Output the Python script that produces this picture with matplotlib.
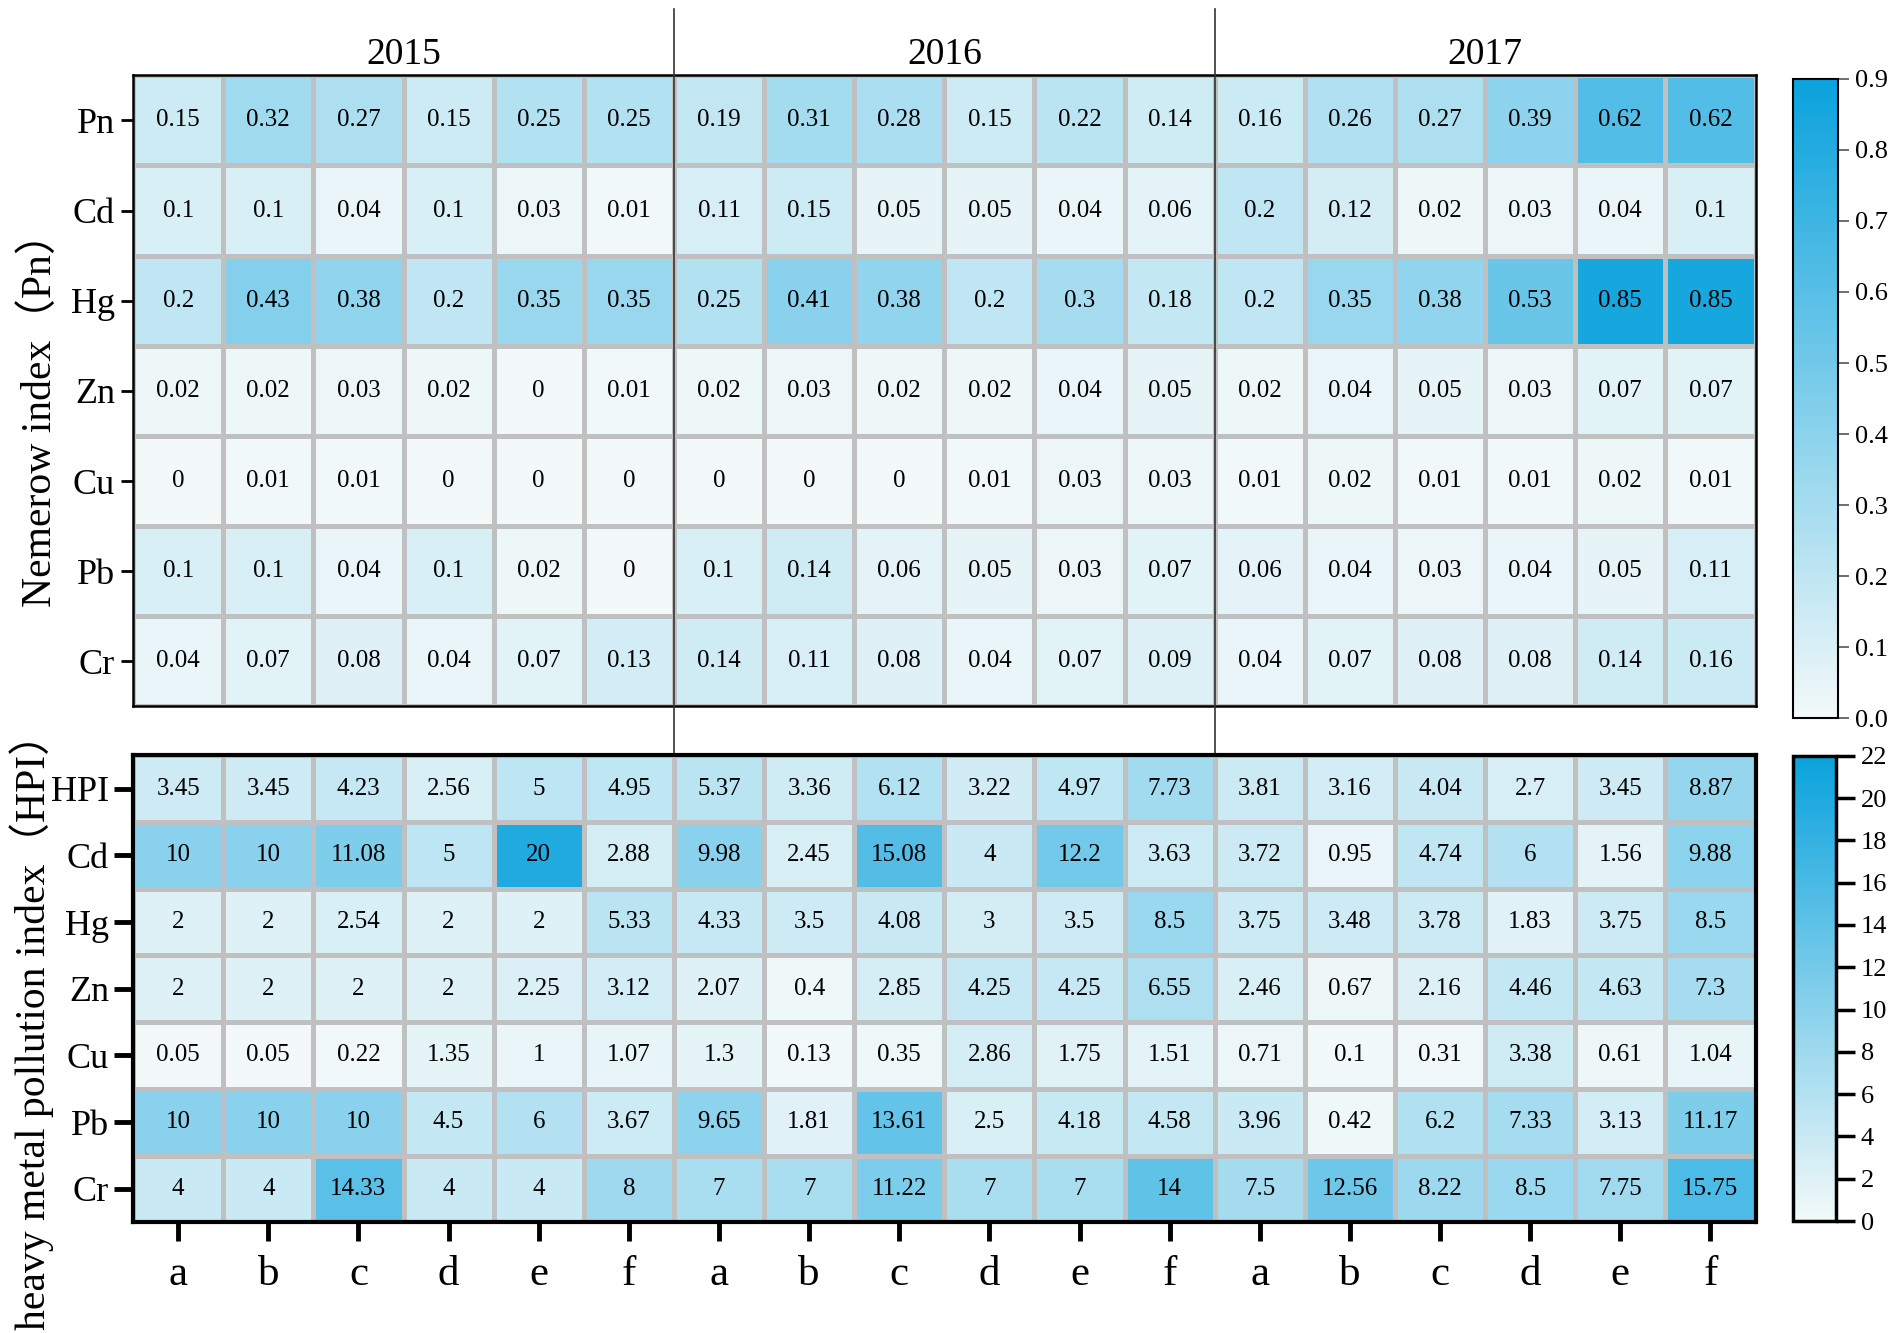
import numpy as np
import matplotlib
matplotlib.use('Agg')
import matplotlib.pyplot as plt
from matplotlib.colors import LinearSegmentedColormap
from matplotlib import transforms

plt.rcParams['font.family'] = ['Liberation Serif', 'Noto Sans CJK SC', 'DejaVu Sans']

# 데이터
years = ['2015', '2016', '2017']
sites = ['a', 'b', 'c', 'd', 'e', 'f']
pn_rows = ['Pn', 'Cd', 'Hg', 'Zn', 'Cu', 'Pb', 'Cr']
hpi_rows = ['HPI', 'Cd', 'Hg', 'Zn', 'Cu', 'Pb', 'Cr']

pn_pn = [0.15, 0.32, 0.27, 0.15, 0.25, 0.25, 0.19, 0.31, 0.28, 0.15, 0.22, 0.14, 0.16, 0.26, 0.27, 0.39, 0.62, 0.62]
pn_cd = [0.1, 0.1, 0.04, 0.1, 0.03, 0.01, 0.11, 0.15, 0.05, 0.05, 0.04, 0.06, 0.2, 0.12, 0.02, 0.03, 0.04, 0.1]
pn_hg = [0.2, 0.43, 0.38, 0.2, 0.35, 0.35, 0.25, 0.41, 0.38, 0.2, 0.3, 0.18, 0.2, 0.35, 0.38, 0.53, 0.85, 0.85]
pn_zn = [0.02, 0.02, 0.03, 0.02, 0, 0.01, 0.02, 0.03, 0.02, 0.02, 0.04, 0.05, 0.02, 0.04, 0.05, 0.03, 0.07, 0.07]
pn_cu = [0, 0.01, 0.01, 0, 0, 0, 0, 0, 0, 0.01, 0.03, 0.03, 0.01, 0.02, 0.01, 0.01, 0.02, 0.01]
pn_pb = [0.1, 0.1, 0.04, 0.1, 0.02, 0, 0.1, 0.14, 0.06, 0.05, 0.03, 0.07, 0.06, 0.04, 0.03, 0.04, 0.05, 0.11]
pn_cr = [0.04, 0.07, 0.08, 0.04, 0.07, 0.13, 0.14, 0.11, 0.08, 0.04, 0.07, 0.09, 0.04, 0.07, 0.08, 0.08, 0.14, 0.16]

hpi_hpi = [3.45, 3.45, 4.23, 2.56, 5, 4.95, 5.37, 3.36, 6.12, 3.22, 4.97, 7.73, 3.81, 3.16, 4.04, 2.7, 3.45, 8.87]
hpi_cd = [10, 10, 11.08, 5, 20, 2.88, 9.98, 2.45, 15.08, 4, 12.2, 3.63, 3.72, 0.95, 4.74, 6, 1.56, 9.88]
hpi_hg = [2, 2, 2.54, 2, 2, 5.33, 4.33, 3.5, 4.08, 3, 3.5, 8.5, 3.75, 3.48, 3.78, 1.83, 3.75, 8.5]
hpi_zn = [2, 2, 2, 2, 2.25, 3.12, 2.07, 0.4, 2.85, 4.25, 4.25, 6.55, 2.46, 0.67, 2.16, 4.46, 4.63, 7.3]
hpi_cu = [0.05, 0.05, 0.22, 1.35, 1, 1.07, 1.3, 0.13, 0.35, 2.86, 1.75, 1.51, 0.71, 0.1, 0.31, 3.38, 0.61, 1.04]
hpi_pb = [10, 10, 10, 4.5, 6, 3.67, 9.65, 1.81, 13.61, 2.5, 4.18, 4.58, 3.96, 0.42, 6.2, 7.33, 3.13, 11.17]
hpi_cr = [4, 4, 14.33, 4, 4, 8, 7, 7, 11.22, 7, 7, 14, 7.5, 12.56, 8.22, 8.5, 7.75, 15.75]

pn_data = np.array([pn_pn, pn_cd, pn_hg, pn_zn, pn_cu, pn_pb, pn_cr])
hpi_data = np.array([hpi_hpi, hpi_cd, hpi_hg, hpi_zn, hpi_cu, hpi_pb, hpi_cr])
col_labels = sites * len(years)

cmap = LinearSegmentedColormap.from_list('blu', ['#f3f9f9', '#0aa2dd'])


def fmt(v):
    return ('%.2f' % v).rstrip('0').rstrip('.')


def draw_heat(ax, data, rows, vmax):
    ncol = data.shape[1]
    mesh = ax.pcolormesh(np.arange(ncol + 1), np.arange(len(rows) + 1), data,
                         cmap=cmap, vmin=0, vmax=vmax,
                         edgecolors='#c0c0c0', linewidth=2.4)
    ax.set_xlim(0, ncol)
    ax.set_ylim(len(rows), 0)
    for i in range(len(rows)):
        for j in range(ncol):
            ax.text(j + 0.5, i + 0.5, fmt(data[i, j]), ha='center', va='center',
                    fontsize=18, color='black')
    ax.set_yticks(np.arange(len(rows)) + 0.5)
    ax.set_yticklabels(rows, fontsize=26)
    return mesh


fig = plt.figure(figsize=(19.02, 13.33), dpi=100)

ax1 = fig.add_axes([0.070, 0.470, 0.853, 0.4735])
ax2 = fig.add_axes([0.070, 0.083, 0.853, 0.3505])
cax1 = fig.add_axes([0.9427, 0.461, 0.0236, 0.480])
cax2 = fig.add_axes([0.9427, 0.084, 0.0225, 0.349])

m1 = draw_heat(ax1, pn_data, pn_rows, 0.9)
m2 = draw_heat(ax2, hpi_data, hpi_rows, 22)

ax1.set_xticks([])
ax1.tick_params(axis='y', length=9, width=2, pad=4)
for s in ax1.spines.values():
    s.set_linewidth(1.8)

ax2.set_xticks(np.arange(len(col_labels)) + 0.5)
ax2.set_xticklabels(col_labels, fontsize=31)
ax2.tick_params(axis='both', length=14, width=3.5)
ax2.tick_params(axis='x', pad=10)
for s in ax2.spines.values():
    s.set_linewidth(3)

ax1.set_ylabel('Nemerow index（Pn）', fontsize=30)
ax2.set_ylabel('heavy metal pollution index（HPI）', fontsize=30)
ax1.yaxis.set_label_coords(-0.045, 0.47)
ax2.yaxis.set_label_coords(-0.049, 0.43)

# 연도 라벨
for k, yr in enumerate(years):
    ax1.text(6 * k + 3, -0.12, yr, ha='center', va='baseline', fontsize=27)

# 연도 구분선
trans = transforms.blended_transform_factory(ax1.transData, fig.transFigure)
for k in range(1, len(years)):
    ax1.plot([6 * k, 6 * k], [0.4335, 0.993], color='#333333', linewidth=1.2,
             transform=trans, clip_on=False, zorder=5)

cb1 = fig.colorbar(m1, cax=cax1, ticks=np.arange(0, 0.91, 0.1))
cb1.ax.set_yticklabels(['%.1f' % t for t in np.arange(0, 0.91, 0.1)])
cb1.ax.tick_params(labelsize=19, length=8, width=1.2, color='#555555', pad=4)
cb1.outline.set_linewidth(1.5)

cb2 = fig.colorbar(m2, cax=cax2, ticks=np.arange(0, 23, 2))
cb2.ax.tick_params(labelsize=19, length=14, width=2.5, pad=4)
cb2.outline.set_linewidth(2.5)

fig.savefig('out.png', dpi=100)
